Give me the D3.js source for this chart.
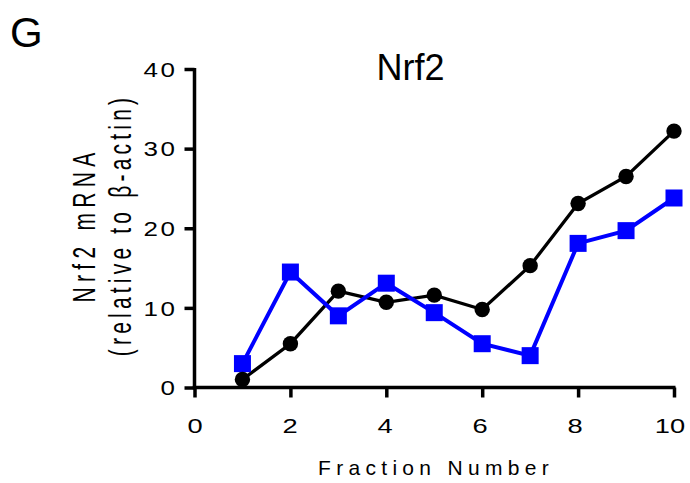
<!DOCTYPE html>
<html><head><meta charset="utf-8">
<script src="https://cdn.jsdelivr.net/npm/d3@7"></script>
<style>body{margin:0;background:#fff}svg{display:block;font-family:"Liberation Sans",Arial,sans-serif}</style>
</head><body>
<svg id="c" width="690" height="483"></svg>
<script>
const fractions = [1,2,3,4,5,6,7,8,9,10];
const blackSeries = [1.0,5.5,12.1,10.7,11.6,9.8,15.3,23.1,26.5,32.2];
const blueSeries = [3.0,14.5,9.0,13.1,9.4,5.5,4.0,18.1,19.7,23.8];
const xTicks = [0,2,4,6,8,10];
const yTicks = [0,10,20,30,40];

const svg = d3.select("#c");
const x = d3.scaleLinear().domain([0,10]).range([194.5,674]);
const y = d3.scaleLinear().domain([0,40]).range([387.5,69]);
const FF = "Liberation Sans, Arial, sans-serif";
const SX = 1.3;

const xAxis = svg.append("g").attr("transform","translate(0,387.5)")
  .call(d3.axisBottom(x).tickValues(xTicks).tickSize(10).tickPadding(21).tickFormat(d3.format("d")));
const yAxis = svg.append("g").attr("transform","translate(194.5,0)")
  .call(d3.axisLeft(y).tickValues(yTicks).tickSize(10).tickPadding(4).tickFormat(d3.format("d")));
[xAxis,yAxis].forEach(a=>{
  a.selectAll("path").attr("stroke","#000").attr("stroke-width",3.5).attr("d", a===xAxis ? "M192.75,0H675.5" : "M0,68V389.25");
  a.selectAll("line").attr("stroke","#000").attr("stroke-width",3.5);
  a.selectAll("text").attr("fill","#000").style("font-family",FF)
    .attr("transform",`scale(${SX},1)`);
});
xAxis.selectAll("text").style("font-size","21px").style("letter-spacing","0px")
  .attr("x", d => -0.45*d/SX);
yAxis.selectAll("text").style("font-size","20px").style("letter-spacing","2px").attr("dy","0.36em").attr("x",-17/SX);

const line = d3.line().x((d,i)=>x(fractions[i])).y(d=>y(d));
svg.append("path").datum(blackSeries).attr("d",line).attr("fill","none").attr("stroke","#000").attr("stroke-width",3.3);
svg.append("path").datum(blueSeries).attr("d",line).attr("fill","none").attr("stroke","#0000ff").attr("stroke-width",4);
svg.selectAll(".sq").data(blueSeries).enter().append("rect")
  .attr("x",(d,i)=>x(fractions[i])-8.5).attr("y",d=>y(d)-8.5).attr("width",17).attr("height",17).attr("fill","#0000ff");
svg.selectAll(".ci").data(blackSeries).enter().append("circle")
  .attr("cx",(d,i)=>x(fractions[i])).attr("cy",d=>y(d)).attr("r",7.7).attr("fill","#000");

svg.append("text").attr("x",10).attr("y",47).text("G").style("font-size","42px").style("font-family",FF).attr("fill","#000");
svg.append("text").attr("x",410.5).attr("y",80).attr("text-anchor","middle").text("Nrf2").style("font-size","36px").style("font-family",FF).attr("fill","#000");
svg.append("text").attr("x",436).attr("y",475).attr("text-anchor","middle").text("Fraction Number")
  .style("font-size","21px").style("letter-spacing","5.3px").style("font-family",FF).attr("fill","#000");
const yl = svg.append("g").attr("transform","translate(0,225) rotate(-90)");
yl.append("text").attr("transform","translate(0,95) scale(1,1.45)").attr("text-anchor","middle").text("Nrf2 mRNA")
  .style("font-size","21px").style("letter-spacing","5.3px").style("font-family",FF).attr("fill","#000");
yl.append("text").attr("transform","translate(0,131) scale(1,1.45)").attr("text-anchor","middle").text("(relative to β-actin)")
  .style("font-size","21px").style("letter-spacing","4.2px").style("font-family",FF).attr("fill","#000");
</script>
</body></html>
